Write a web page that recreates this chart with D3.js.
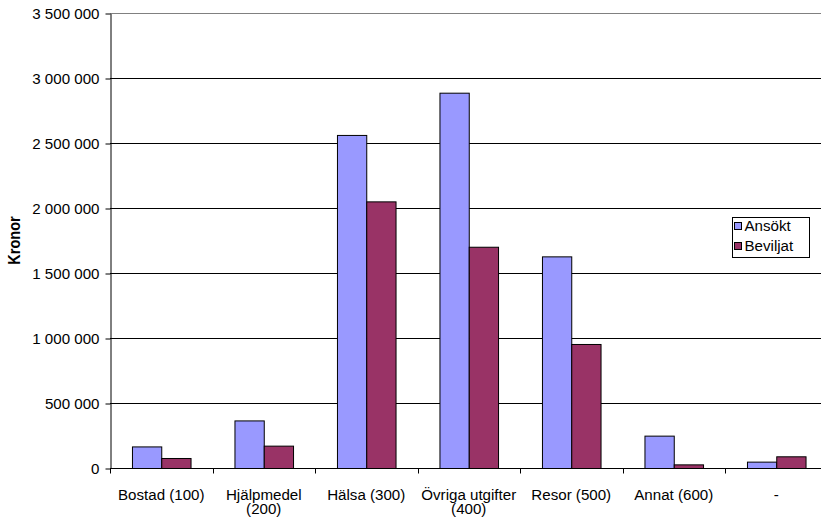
<!DOCTYPE html>
<html>
<head>
<meta charset="utf-8">
<script src="https://cdn.jsdelivr.net/npm/d3@7"></script>
<style>
  html, body { margin: 0; padding: 0; background: #fff; }
  svg { display: block; font-family: "Liberation Sans", Arial, sans-serif; }
</style>
</head>
<body>
<svg id="chart" width="821" height="517"></svg>
<script>
// Kategorier och belopp (kronor)
const categories = ["Bostad (100)", "Hjälpmedel (200)", "Hälsa (300)", "Övriga utgifter (400)", "Resor (500)", "Annat (600)", "-"];
const seriesNames = ["Ansökt", "Beviljat"];
const ansokt   = [166000, 366000, 2562000, 2887000, 1628000, 249000, 49000];
const beviljat = [77000, 172000, 2051000, 1702000, 954000, 28000, 90000];
const yTicks = [0, 500000, 1000000, 1500000, 2000000, 2500000, 3000000, 3500000];
const colors = ["#9999FF", "#993366"];

const rows = categories.map((c, i) => ({ category: c, values: [ansokt[i], beviljat[i]] }));

const svg = d3.select("#chart");
const fontSize = 14;
const stretch = 1.08;   // text is drawn slightly wide, as in the exported chart

const plot = { left: 110, top: 13, right: 827.5, bottom: 468 };

const x0 = d3.scaleBand().domain(categories).range([plot.left, plot.right]).paddingInner(0).paddingOuter(0);
const x1 = d3.scaleBand().domain(seriesNames).range([0, x0.bandwidth()]).paddingInner(0).paddingOuter(0.75);
const y = d3.scaleLinear().domain([0, 3500000]).range([plot.bottom, plot.top]);

const fmt = d3.formatLocale({ decimal: ",", thousands: " ", grouping: [3], currency: ["", " kr"] }).format(",d");

// horisontella stödlinjer
svg.append("g")
  .selectAll("line")
  .data(yTicks.filter(v => v > 0 && v < 3500000))
  .join("line")
  .attr("x1", plot.left).attr("x2", plot.right)
  .attr("y1", d => Math.round(y(d)) + 0.5).attr("y2", d => Math.round(y(d)) + 0.5)
  .attr("stroke", "#000").attr("stroke-width", 1);

// ram överst
svg.append("line")
  .attr("x1", plot.left).attr("x2", plot.right)
  .attr("y1", plot.top + 0.5).attr("y2", plot.top + 0.5)
  .attr("stroke", "#808080");

// staplar
const groups = svg.append("g").selectAll("g")
  .data(rows)
  .join("g")
  .attr("transform", d => `translate(${x0(d.category)},0)`);

groups.selectAll("rect")
  .data(d => d.values.map((v, k) => ({ key: seriesNames[k], value: v, k })))
  .join("rect")
  .attr("x", d => x1(d.key) + 0.5)
  .attr("y", d => y(d.value) + 0.5)
  .attr("width", x1.bandwidth())
  .attr("height", d => y(0) - y(d.value))
  .attr("fill", d => colors[d.k])
  .attr("stroke", "#000")
  .attr("stroke-width", 1);

// y-axel
const yAxis = svg.append("g")
  .attr("transform", `translate(${plot.left + 0.5},0.5)`)
  .call(d3.axisLeft(y).tickValues(yTicks).tickFormat(fmt).tickSize(5).tickSizeOuter(0));
yAxis.select(".domain").attr("stroke", "#000");
yAxis.selectAll(".tick line").attr("stroke", "#000");
yAxis.selectAll(".tick text")
  .attr("x", 0)
  .attr("dy", "0.35em")
  .attr("font-size", fontSize)
  .attr("fill", "#000")
  .attr("text-anchor", "end")
  .attr("transform", `translate(-11,0) scale(${stretch},1)`);

// x-axel med streck mellan kategorierna
const xAxis = svg.append("g")
  .attr("transform", `translate(0,${plot.bottom + 0.5})`);
xAxis.append("line")
  .attr("x1", plot.left).attr("x2", plot.right)
  .attr("stroke", "#000");
xAxis.selectAll("line.tk")
  .data(categories)
  .join("line")
  .attr("class", "tk")
  .attr("x1", d => Math.round(x0(d)) + 0.5).attr("x2", d => Math.round(x0(d)) + 0.5)
  .attr("y1", 0).attr("y2", 5)
  .attr("stroke", "#000");

// kategorietiketter, radbrytning vid behov
const maxW = x0.bandwidth() - 4;
categories.forEach(c => {
  const cx = x0(c) + x0.bandwidth() / 2;
  const t = xAxis.append("text")
    .attr("font-size", fontSize)
    .attr("text-anchor", "middle")
    .attr("fill", "#000")
    .attr("transform", `translate(${cx},31) scale(${stretch},1)`);
  const words = c.split(" ");
  let line = [];
  let lineNo = 0;
  let ts = t.append("tspan").attr("x", 0).attr("y", 0);
  words.forEach(w => {
    line.push(w);
    ts.text(line.join(" "));
    if (ts.node().getComputedTextLength() * stretch > maxW && line.length > 1) {
      line.pop();
      ts.text(line.join(" "));
      line = [w];
      lineNo++;
      ts = t.append("tspan").attr("x", 0).attr("y", lineNo * 14.5).text(w);
    }
  });
});

// axeltitel
svg.append("text")
  .attr("transform", `translate(20,${(plot.top + plot.bottom) / 2}) scale(${stretch},1) rotate(-90)`)
  .attr("text-anchor", "middle")
  .attr("font-size", 14.5)
  .attr("font-weight", "bold")
  .attr("fill", "#000")
  .text("Kronor");

// teckenförklaring
const legend = svg.append("g").attr("transform", "translate(732.5,217.5)");
legend.append("rect")
  .attr("width", 77).attr("height", 40)
  .attr("fill", "#fff").attr("stroke", "#000");
seriesNames.forEach((s, k) => {
  legend.append("rect")
    .attr("x", 2).attr("y", 5 + k * 20)
    .attr("width", 7).attr("height", 7)
    .attr("fill", colors[k]).attr("stroke", "#000");
  legend.append("text")
    .attr("transform", `translate(12,${13 + k * 20}) scale(${stretch},1)`)
    .attr("font-size", fontSize)
    .attr("fill", "#000")
    .text(s);
});
</script>
</body>
</html>
